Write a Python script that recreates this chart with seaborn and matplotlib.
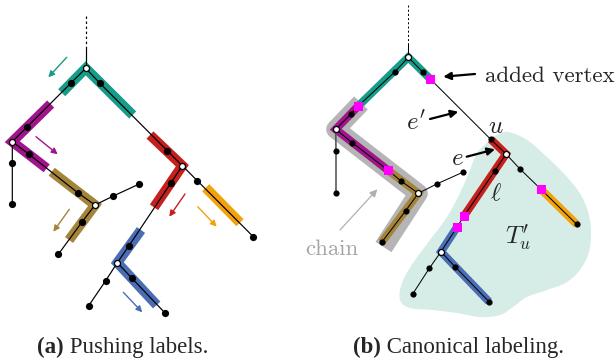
import numpy as np
import pandas as pd
import matplotlib
matplotlib.use("Agg")
import matplotlib.pyplot as plt
import seaborn as sns

sns.set_theme(style="white")
plt.rcParams["mathtext.fontset"] = "cm"

# ---------------- tree (a): node positions ----------------
nodes_a = {
    "r": (85.7, 68.3), "a1": (70.7, 83.3), "a2": (27.3, 126.7), "w1": (12.3, 141.7),
    "a3": (100.0, 83.3), "a4": (167.3, 150.7), "w2": (182.3, 165.7),
    "a5": (12.3, 162.7), "a6": (12.3, 204.3),
    "a7": (29.0, 154.3), "a8": (77.7, 192.7), "w3": (95.0, 205.0),
    "a9": (113.3, 196.0), "a10": (139.3, 184.0),
    "a11": (82.0, 222.0), "a12": (58.3, 254.3),
    "a13": (197.3, 180.7), "a14": (253.3, 236.7),
    "a15": (170.7, 183.3), "a16": (129.0, 245.7), "w4": (117.3, 262.7),
    "a17": (105.7, 280.7), "a18": (88.7, 305.7),
    "a19": (132.0, 278.3), "a20": (165.3, 313.3),
}
paths_a = [
    ["r", "a1", "a2", "w1", "a5", "a6"],
    ["w1", "a7", "a8", "w3", "a9", "a10"],
    ["w3", "a11", "a12"],
    ["r", "a3", "a4", "w2", "a13", "a14"],
    ["w2", "a15", "a16", "w4", "a17", "a18"],
    ["w4", "a19", "a20"],
]
white_a = ["r", "w1", "w2", "w3", "w4"]
stem_a = (85.7, 16.0, 47.0)  # x, dashed top, solid start

bands_a = [
    ("#169c88", [(61.7, 92.7), (85.7, 68.3), (132.7, 115.0)]),
    ("#a0158c", [(50.7, 104.0), (12.3, 141.7), (46.7, 168.3)]),
    ("#a4843a", [(51.7, 171.7), (95.0, 205.0), (69.0, 240.0)]),
    ("#c3201e", [(150.0, 135.0), (182.3, 165.7), (154.0, 207.3)]),
    ("#f2a20c", [(205.7, 187.7), (240.0, 222.7)]),
    ("#4a6db3", [(141.0, 230.0), (117.3, 262.7), (156.7, 305.0)]),
]
push_arrows = [
    ("#169c88", (66.7, 57.3), (48.3, 77.3)),
    ("#a0158c", (36.0, 136.7), (57.7, 154.3)),
    ("#a4843a", (69.3, 209.3), (53.3, 231.7)),
    ("#c3201e", (185.0, 194.0), (169.3, 216.7)),
    ("#f2a20c", (197.7, 206.7), (216.7, 226.7)),
    ("#4a6db3", (123.3, 292.3), (142.3, 312.3)),
]

# ---------------- tree (b): node positions ----------------
nodes_b = {
    "r": (408.3, 57.3), "b1": (395.0, 71.7), "sL": (358.3, 106.0), "b2": (350.7, 114.3),
    "w5": (335.7, 129.3), "b3": (423.0, 72.3), "sR": (430.0, 78.7),
    "u": (490.7, 139.3), "w6": (506.0, 154.0),
    "b4": (336.0, 150.7), "b5": (336.0, 192.7),
    "b6": (352.3, 142.7), "sM": (387.7, 170.0), "b7": (401.0, 181.0), "w7": (418.3, 193.3),
    "b8": (436.7, 184.0), "b9": (462.7, 172.3),
    "b10": (405.7, 210.7), "b11": (381.7, 242.3),
    "b12": (520.0, 169.0), "sO": (541.0, 189.3), "b13": (576.7, 224.3),
    "b14": (494.7, 171.0), "s1": (464.0, 216.0), "s2": (457.3, 226.7), "w8": (441.0, 251.7),
    "b15": (429.3, 268.3), "b16": (412.7, 294.0),
    "b17": (455.0, 266.7), "b18": (489.0, 301.7),
}
paths_b = [
    ["r", "b1", "sL", "b2", "w5"],
    ["w5", "b6", "sM", "b7", "w7", "b8", "b9"],
    ["w7", "b10", "b11"],
    ["r", "b3", "sR", "u", "w6", "b12", "sO", "b13"],
    ["w6", "b14", "s1", "s2", "w8", "b15", "b16"],
    ["w8", "b17", "b18"],
]
side_b = ["w5", "b4", "b5"]
white_b = ["r", "w5", "w6", "w7", "w8"]
added_b = ["sL", "sR", "sM", "sO", "s1", "s2"]
stem_b = (408.3, 5.0, 43.0)

chain_b = [(361.0, 103.0), (335.7, 129.3), (418.3, 193.3), (383.5, 247.0)]
bands_b = [
    ("#169c88", ["sL", "r", "sR"]),
    ("#a0158c", ["sL", "w5", "sM"]),
    ("#a4843a", ["sM", "w7", "b11"]),
    ("#c3201e", ["u", "w6", "s1"]),
    ("#f2a20c", ["sO", "b13"]),
    ("#4a6db3", ["s2", "w8", "b18"]),
]

# outline of the subtree region T'_u
blob_x = [488, 497, 508, 527, 547, 567, 582, 590, 590, 582, 567, 547, 527,
          513, 500, 480, 457, 433, 410, 400, 402, 413, 430, 447, 460, 470, 477]
blob_y = [142, 135, 132, 140, 157, 177, 197, 220, 247, 267, 282, 290, 297,
          307, 315, 317, 313, 310, 308, 300, 283, 263, 240, 217, 193, 170, 153]

PX = 0.72  # points per pixel at 100 dpi


def smooth_closed(xs, ys, n=12):
    """Closed Catmull-Rom curve through the outline vertices."""
    p = np.column_stack([xs, ys]).astype(float)
    m = len(p)
    out = []
    for i in range(m):
        p0, p1, p2, p3 = p[i - 1], p[i], p[(i + 1) % m], p[(i + 2) % m]
        for t in np.linspace(0, 1, n, endpoint=False):
            t2, t3 = t * t, t * t * t
            out.append(0.5 * ((2 * p1) + (-p0 + p2) * t + (2 * p0 - 5 * p1 + 4 * p2 - p3) * t2
                              + (-p0 + 3 * p1 - 3 * p2 + p3) * t3))
    return np.array(out)


fig = plt.figure(figsize=(6.15, 3.61), dpi=100)
ax = fig.add_axes([0, 0, 1, 1])
ax.set_xlim(0, 615)
ax.set_ylim(361, 0)
ax.axis("off")

# region T'_u
blob = smooth_closed(blob_x, blob_y)
ax.fill(blob[:, 0], blob[:, 1], color="#d5ece7", lw=0, zorder=0)

# chain highlight
cx, cy = zip(*chain_b)
ax.plot(cx, cy, color="#b5b5b5", lw=19 * PX, solid_joinstyle="round",
        solid_capstyle="butt", zorder=1)


def draw_tree(nodes, paths, bands, band_w, stem, edge_w):
    for col, pts in bands:
        pts = [nodes[p] if isinstance(p, str) else p for p in pts]
        bx, by = zip(*pts)
        ax.plot(bx, by, color=col, lw=band_w * PX, solid_joinstyle="miter",
                solid_capstyle="butt", zorder=2)
    for path in paths:
        ex, ey = zip(*[nodes[n] for n in path])
        ax.plot(ex, ey, color="black", lw=edge_w * PX, zorder=3)
    x, ytop, ysolid = stem
    rx, ry = nodes["r"]
    ax.plot([x, x], [ysolid, ry], color="black", lw=edge_w * PX, zorder=3)
    ax.plot([x, x], [ytop, ysolid], color="black", lw=edge_w * PX,
            linestyle=(0, (2, 2.2)), zorder=3)


draw_tree(nodes_a, paths_a, bands_a, 10, stem_a, 1.2)
draw_tree(nodes_b, paths_b, bands_b, 8, stem_b, 1.0)
sx, sy = zip(*[nodes_b[n] for n in side_b])
ax.plot(sx, sy, color="#555555", lw=1.6 * PX, zorder=3)


# vertices
def node_frame(nodes, whites, skip=()):
    rows = []
    for k, (x, y) in nodes.items():
        if k in skip:
            continue
        rows.append({"x": x, "y": y, "kind": "branch" if k in whites else "plain"})
    return pd.DataFrame(rows)


for nodes, whites, skip, d in [(nodes_a, white_a, (), 7.2), (nodes_b, white_b, added_b, 6.2)]:
    df = node_frame(nodes, whites, skip)
    plain = df[df.kind == "plain"]
    branch = df[df.kind == "branch"]
    sns.scatterplot(data=plain, x="x", y="y", ax=ax, color="black", s=(d * PX) ** 2,
                    linewidth=0, zorder=4, legend=False)
    sns.scatterplot(data=branch, x="x", y="y", ax=ax, color="white", s=(6 * PX) ** 2,
                    edgecolor="black", linewidth=0.9, zorder=5, legend=False)

sq = pd.DataFrame([nodes_b[k] for k in added_b], columns=["x", "y"])
sns.scatterplot(data=sq, x="x", y="y", ax=ax, marker="s", color="#ff00ff",
                s=(9 * PX) ** 2, linewidth=0, zorder=6, legend=False)
ax.set_xlim(0, 615)
ax.set_ylim(361, 0)
ax.set_xlabel("")
ax.set_ylabel("")

# push direction arrows
for col, s, e in push_arrows:
    ax.annotate("", xy=e, xytext=s,
                arrowprops=dict(arrowstyle="-|>", color=col, lw=1.0, mutation_scale=9,
                                shrinkA=0, shrinkB=0), zorder=6)

# annotations in (b)
black_arrows = [((475.0, 74.0), (443.3, 76.7)),
                ((430.0, 119.0), (458.3, 111.7)),
                ((466.7, 156.7), (495.0, 149.3))]
for s, e in black_arrows:
    ax.annotate("", xy=e, xytext=s,
                arrowprops=dict(arrowstyle="-|>", color="black", lw=1.6, mutation_scale=11,
                                shrinkA=0, shrinkB=0), zorder=7)
ax.annotate("", xy=(377.3, 189.3), xytext=(340.0, 230.0),
            arrowprops=dict(arrowstyle="-|>", color="#b0b0b0", lw=0.9, mutation_scale=11,
                            shrinkA=0, shrinkB=0), zorder=7)

cm_size = 16.5
math_size = 18
ax.text(485, 81.5, "added vertex", fontfamily="cmr10", fontsize=cm_size,
        ha="left", va="baseline", zorder=8)
ax.text(332, 255, "chain", fontfamily="cmr10", fontsize=cm_size, color="#a6a6a6",
        ha="center", va="baseline", zorder=8)
ax.text(416, 130, r"$e^{\prime}$", fontsize=math_size, ha="center", va="baseline", zorder=8)
ax.text(496, 133, r"$u$", fontsize=math_size, ha="center", va="baseline", zorder=8)
ax.text(457.5, 165, r"$e$", fontsize=math_size, ha="center", va="baseline", zorder=8)
ax.text(496, 200, r"$\ell$", fontsize=math_size, ha="center", va="baseline", zorder=8)
ax.text(505, 244, r"$T^{\prime}_{u}$", fontsize=math_size, ha="left", va="baseline", zorder=8)

# sub-captions
captions = [(37, "(a)", " Pushing labels."), (353, "(b)", " Canonical labeling.")]
renderer = fig.canvas.get_renderer()
inv = ax.transData.inverted()
for x0, tag, rest in captions:
    t = ax.text(x0, 353, tag, fontfamily="Liberation Serif", fontweight="bold",
                fontsize=16.5, ha="left", va="baseline")
    bb = t.get_window_extent(renderer)
    x1 = inv.transform((bb.x1, bb.y0))[0]
    ax.text(x1, 353, rest, fontfamily="Liberation Serif", fontsize=16.5,
            ha="left", va="baseline")

fig.savefig("out.png", dpi=100)
